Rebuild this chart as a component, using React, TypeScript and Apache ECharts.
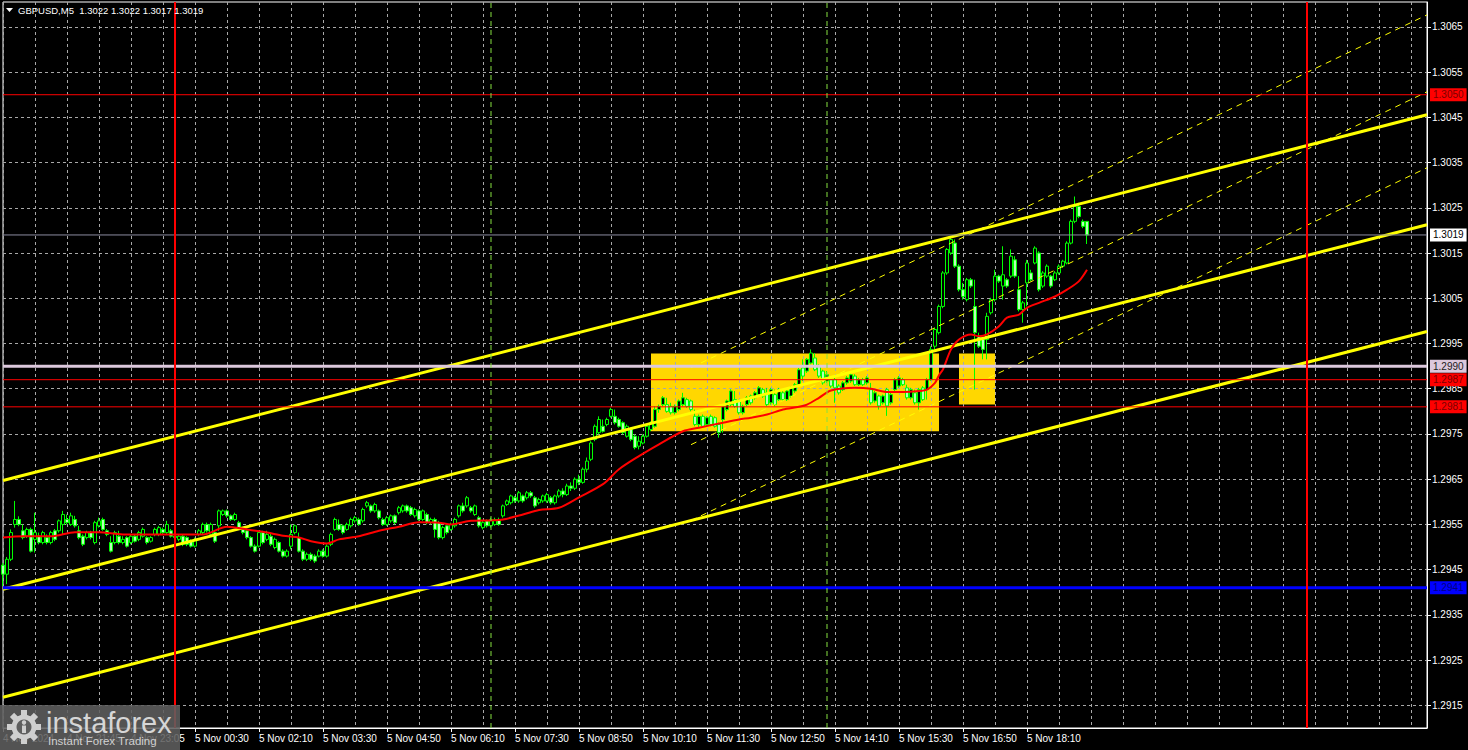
import { useEffect, useRef } from "react";
import * as echarts from "echarts";

// ---------------- data (prices stored as pips above 1.2900) ----------------
const SYMBOL = "GBPUSD,M5";
const PRICE_BASE = 1.29;
const PIP = 0.0001;

const opens = [
  46.0,44.0,47.3,55.0,56.1,53.6,52.4,53.9,51.7,52.4,
  51.0,52.1,51.0,53.6,53.6,55.0,56.1,55.0,56.1,53.6,
  52.4,52.1,53.2,51.0,54.7,56.1,53.6,51.0,51.0,52.4,
  51.0,52.1,51.0,52.4,51.7,52.4,52.1,51.3,52.8,52.8,
  53.9,53.2,53.6,52.4,51.7,52.4,52.1,51.3,50.2,52.8,
  53.2,55.0,52.8,53.2,54.7,57.2,58.0,56.9,56.1,55.4,
  53.9,53.6,52.1,50.2,50.2,53.2,51.7,
  52.4,49.9,51.0,49.1,48.0,50.2,53.2,52.1,49.1,47.3,
  48.4,48.0,48.0,49.1,48.0,50.6,53.9,55.0,54.7,53.9,
  54.7,55.8,56.1,55.8,59.1,59.1,58.0,58.0,56.1,55.0,
  55.8,56.9,57.6,58.0,59.1,58.7,56.9,58.0,56.1,57.2,
  55.4,56.1,55.4,52.1,54.7,53.9,54.7,56.9,59.1,59.1,
  58.7,57.2,56.5,54.3,55.8,54.7,55.0,56.1,56.9,59.4,
  59.8,60.9,60.2,61.3,60.9,62.0,60.9,59.8,60.2,60.2,
  60.9,59.8,61.3,62.4,61.6,63.5,63.0,65.0,64.3,67.2,
  69.4,73.8,75.3,76.7,77.1,78.9,78.9,78.2,77.5,74.5,
  76.0,74.5,72.3,73.0,74.5,76.0,76.7,80.4,81.5,81.5,
  81.1,79.7,80.4,81.5,82.6,82.3,78.9,77.1,78.9,77.1,
  78.9,78.6,77.1,78.2,80.4,81.5,82.6,82.3,79.7,81.5,
  83.4,83.0,83.7,84.8,84.1,81.9,83.7,82.6,84.1,82.6,
  83.4,84.5,85.9,89.6,88.9,90.7,91.8,90.0,88.9,86.7,
  87.0,87.0,85.6,84.8,86.3,86.7,87.8,85.9,87.0,86.3,
  84.8,82.3,83.4,81.9,84.8,81.9,84.8,85.6,87.0,85.2,
  83.0,84.1,81.9,85.2,84.8,87.0,94.4,97.4,103.2,110.6,
  115.0,117.2,112.1,106.9,104.7,109.1,103.2,96.6,95.9,95.9,
  101.8,104.7,109.9,107.7,109.1,109.9,113.5,106.9,102.5,108.4,
  110.6,112.8,115.0,107.7,109.9,109.9,109.1,110.6,112.1,112.8,
  117.2,122.0,125.3,122.0,122.0,
];

const closes = [
  44.0,47.3,53.2,56.1,55.0,52.1,53.9,49.1,53.2,51.0,
  53.2,51.0,53.2,51.7,55.8,57.2,55.4,56.9,54.7,52.1,
  50.6,53.2,52.1,55.4,55.8,53.9,52.8,49.1,53.2,51.0,
  51.7,50.2,52.4,51.3,53.2,53.9,51.0,52.1,53.9,54.3,
  53.2,55.0,52.4,52.1,52.4,50.6,50.6,50.2,51.7,53.6,
  55.0,53.6,55.0,51.3,58.0,58.0,56.9,56.1,57.2,54.3,
  53.2,52.1,50.2,49.1,53.2,51.0,52.8,
  50.6,51.7,49.1,48.0,49.1,52.8,54.7,49.1,47.3,48.4,
  47.3,46.9,49.1,48.0,50.2,52.8,56.1,53.9,53.2,55.0,
  56.1,56.5,55.0,58.3,59.8,58.0,59.4,56.5,55.0,56.5,
  56.9,55.4,58.7,59.1,58.0,57.2,58.3,56.1,58.0,55.4,
  56.1,53.9,52.1,54.3,53.2,55.0,56.1,59.1,58.0,60.9,
  58.0,59.1,54.7,55.4,54.7,56.1,56.1,55.0,59.1,60.2,
  61.3,60.2,62.0,60.2,62.0,61.3,59.1,60.5,61.3,61.6,
  59.8,61.3,62.4,61.6,63.5,63.0,65.0,64.3,67.2,69.0,
  73.0,76.7,78.2,75.6,78.2,80.4,77.5,76.7,75.3,76.7,
  73.8,72.0,73.4,74.5,76.7,77.5,80.4,81.1,83.0,80.0,
  79.7,81.1,82.3,83.0,81.1,80.4,77.1,78.9,76.7,78.6,
  77.1,76.7,75.3,81.1,82.3,84.5,81.1,79.7,81.1,83.0,
  81.9,84.1,85.2,83.4,81.5,84.8,81.5,84.8,82.6,84.5,
  85.2,85.9,89.2,87.8,91.5,92.9,89.2,87.8,86.3,88.1,
  85.6,85.2,84.1,86.3,87.4,88.1,85.9,87.0,85.9,87.4,
  81.9,84.1,81.2,83.4,81.2,83.7,87.0,87.4,85.9,83.0,
  84.8,81.9,84.8,82.6,87.0,93.7,98.1,103.2,110.6,115.8,
  118.0,112.1,106.9,105.4,109.1,107.7,97.4,94.4,93.7,101.0,
  104.7,109.9,108.8,110.2,107.7,114.3,109.9,102.5,104.0,112.8,
  109.1,116.1,106.9,110.6,112.1,107.7,110.6,112.1,113.2,117.2,
  122.0,125.3,123.1,120.9,119.0,
];

const lows = [
  41.4,41.8,46.9,54.3,54.6,51.7,52.0,48.8,48.8,50.6,
  50.6,50.6,50.6,51.3,53.2,52.8,55.0,54.7,54.3,51.7,
  50.2,51.7,51.7,50.6,54.3,53.6,52.4,48.8,50.6,50.6,
  50.6,49.9,50.6,51.0,51.3,52.1,50.6,51.0,52.4,52.4,
  52.8,52.8,52.1,51.7,51.3,50.2,50.2,49.9,49.9,52.4,
  52.8,53.2,52.4,50.9,53.6,56.9,56.5,55.8,55.8,54.0,
  52.8,51.7,49.9,48.8,49.9,50.6,51.3,
  50.2,49.5,48.8,47.7,47.7,49.5,52.8,48.8,46.9,46.9,
  46.9,46.5,47.7,47.7,47.7,50.2,53.6,53.6,52.8,53.6,
  54.3,55.4,54.7,55.4,58.7,57.6,57.6,56.1,54.7,54.7,
  55.4,55.0,57.2,57.6,57.6,56.9,56.5,55.8,55.8,55.0,
  55.0,52.1,51.7,51.7,52.8,53.6,54.3,56.5,57.6,58.7,
  57.6,56.9,54.3,53.9,54.3,54.3,54.7,54.7,56.5,59.1,
  59.4,59.8,59.8,59.8,60.5,60.9,58.7,59.4,59.8,59.8,
  59.4,59.4,60.9,61.0,61.3,62.4,62.6,63.7,64.0,66.5,
  69.0,73.4,74.9,75.3,76.7,78.6,77.1,76.4,74.9,74.2,
  73.4,71.6,71.6,72.7,74.2,75.6,76.4,79.7,81.1,79.7,
  79.3,79.3,80.0,81.1,80.8,80.0,76.7,76.4,76.4,76.7,
  76.7,76.4,74.2,75.3,80.0,81.1,80.8,79.3,79.3,81.1,
  81.5,82.6,83.4,83.0,81.1,81.5,81.1,82.3,82.3,82.3,
  83.0,84.1,85.6,86.7,88.5,90.4,88.9,87.4,85.9,86.3,
  85.2,81.9,83.7,84.5,85.9,86.3,85.6,85.6,85.6,85.9,
  81.5,81.9,80.4,81.5,79.0,81.5,84.5,85.2,85.6,82.6,
  82.6,81.5,80.4,82.3,82.6,86.7,93.7,97.0,102.8,110.2,
  114.6,111.7,106.5,104.7,104.3,107.3,84.8,94.0,91.5,91.5,
  101.4,104.3,108.4,104.7,107.3,109.5,109.5,102.1,99.6,103.2,
  108.8,112.5,106.5,107.3,109.5,107.3,108.8,110.2,111.7,112.5,
  116.9,121.6,122.7,120.5,117.0,
];

const highs = [
  46.5,47.8,53.9,60.2,56.8,55.0,54.3,54.3,57.6,53.2,
  53.6,52.8,53.6,54.0,56.1,58.0,57.2,57.6,56.9,54.7,
  52.8,53.6,53.6,55.8,56.5,56.5,54.0,52.4,53.6,53.6,
  52.4,52.4,52.8,52.8,53.6,54.3,52.4,52.4,54.3,54.7,
  54.3,55.8,54.0,52.8,52.8,52.8,52.4,51.7,52.1,54.0,
  55.4,55.4,55.4,53.6,58.3,58.3,58.3,57.2,57.6,55.8,
  54.3,54.0,52.4,50.6,53.6,53.6,53.6,
  53.2,52.1,51.3,49.5,49.5,55.0,55.0,53.2,49.5,48.8,
  48.8,48.4,49.5,49.5,50.6,53.2,56.5,56.1,55.0,55.4,
  56.5,56.9,56.5,58.7,60.2,59.4,59.8,58.3,56.5,56.9,
  57.2,57.2,59.1,59.4,59.4,59.1,58.7,58.3,58.3,57.6,
  56.5,56.5,55.8,54.7,55.0,55.4,56.5,59.4,59.8,61.3,
  59.1,59.4,56.9,55.8,56.1,56.5,56.5,56.5,59.4,60.5,
  61.6,61.3,62.4,61.6,62.4,62.4,61.3,60.9,61.6,62.0,
  61.3,61.6,62.8,63.0,64.0,64.3,65.4,66.0,67.6,69.8,
  73.4,77.1,78.9,78.2,78.6,80.8,80.4,78.6,77.8,77.1,
  76.4,74.9,74.5,74.9,77.1,77.8,81.1,81.5,83.4,83.0,
  81.9,81.5,82.6,84.1,83.0,82.6,80.4,79.3,79.3,78.9,
  79.3,78.9,77.5,81.5,82.6,84.9,84.5,82.6,81.5,83.4,
  83.7,84.5,85.6,85.2,85.2,85.2,84.8,85.2,84.8,84.9,
  85.6,86.3,89.6,91.5,91.8,93.7,92.9,90.4,89.2,88.9,
  87.4,87.4,86.0,86.7,87.8,88.5,88.2,87.4,87.4,87.8,
  86.3,84.5,83.7,83.7,85.2,84.1,87.4,87.8,87.4,85.9,
  85.2,84.8,85.2,85.6,87.4,94.4,98.5,103.6,111.0,116.1,
  118.7,118.0,112.5,108.4,109.5,109.5,109.1,97.4,96.3,101.8,
  105.1,111.3,110.2,116.5,109.5,115.8,114.3,109.9,104.4,113.5,
  111.3,116.5,115.4,111.0,112.5,110.2,111.0,112.5,113.5,117.6,
  122.4,127.5,126.1,122.4,122.0,
];

// moving average, read at selected bars
const maBars = [
  0,5,12,18,24,30,37,43,50,56,61,66,70,74,77,81,84,89,94,99,
  104,109,112,117,122,125,130,134,139,144,150,154,159,164,170,174,180,184,187,191,
  195,199,201,204,207,213,217,221,225,229,231,233,234,235,237,239,242,244,246,249,
  251,254,256,259,263,266,269,271,
];
const maValues = [
  52.1,52.4,52.4,53.3,53.3,52.8,52.8,52.8,52.8,54.5,53.9,53.2,52.5,52.1,51.3,50.8,51.7,52.4,53.6,54.5,
  55.5,55.4,55.0,55.8,55.9,56.1,57.2,58.2,58.7,61.0,63.9,67.2,70.1,72.7,75.6,76.4,77.5,78.2,78.6,79.3,
  80.4,81.0,81.5,83.0,84.6,85.2,85.0,84.3,84.3,84.5,84.8,86.3,88.0,89.3,93.7,95.9,97.0,96.6,97.0,98.8,
  100.7,101.4,102.9,104.0,105.4,106.9,108.8,111.3,
];

const timeLabels = [
  "4 Nov 2024", "4 Nov 21:45", "4 Nov 23:05", "5 Nov 00:30", "5 Nov 02:10", "5 Nov 03:30",
  "5 Nov 04:50", "5 Nov 06:10", "5 Nov 07:30", "5 Nov 08:50", "5 Nov 10:10", "5 Nov 11:30",
  "5 Nov 12:50", "5 Nov 14:10", "5 Nov 15:30", "5 Nov 16:50", "5 Nov 18:10",
];
const priceTicks = [
  1.2915, 1.2925, 1.2935, 1.2945, 1.2955, 1.2965, 1.2975, 1.2985,
  1.2995, 1.3005, 1.3015, 1.3025, 1.3035, 1.3045, 1.3055, 1.3065,
];

const resistanceLevels = [1.305, 1.2987, 1.2981];
const pivotLevel = 1.299;
const supportLevel = 1.2941;
const sessionBars = [43, 326];
const markerBars = [122, 206];
// [fromBar, toBar, top, bottom]
const zones = [
  [162, 234, 1.29928, 1.29756],
  [239, 248, 1.29928, 1.29815],
];
// [bar1, price1, bar2, price2]
const mainChannel = [
  [0, 1.296473, 356, 1.304557],
  [0, 1.294066, 356, 1.302127],
  [0, 1.291681, 356, 1.299764],
];
const thinChannel = [
  [172, 1.298965, 356, 1.306765],
  [172, 1.297264, 356, 1.305064],
  [172, 1.295586, 356, 1.303386],
];

const LABEL_EVERY = 16;
const GRID_EVERY = 8;
const SLOT_COUNT = 357;
const Y_MIN = 1.291;
const Y_MAX = 1.30705;

// ---------------- helpers ----------------
const FONT = '"Liberation Sans", Arial, sans-serif';
const toPrice = (p: number) => +(PRICE_BASE + p * PIP).toFixed(5);
const fmt = (p: number) => toPrice(p).toFixed(4);

function buildOption() {
  const slots = Array.from({ length: SLOT_COUNT }, (_, i) => String(i));
  const lastSlot = SLOT_COUNT - 1;
  const candles = opens.map((o, i) => [toPrice(o), toPrice(closes[i]), toPrice(lows[i]), toPrice(highs[i])]);
  const last = opens.length - 1;
  const header = `${SYMBOL}  ${fmt(opens[last])} ${fmt(highs[last])} ${fmt(lows[last])} ${fmt(closes[last])}`;
  const lastPrice = toPrice(closes[last]);
  const isLabelSlot = (i: number) => i % LABEL_EVERY === 0 && i / LABEL_EVERY < timeLabels.length;

  const level = (name: string, v: number, color: string, width: number, bg: string, fg: string) => ({
    name,
    type: "line",
    z: 5,
    silent: true,
    showSymbol: false,
    data: [[0, v], [lastSlot, v]],
    lineStyle: { color, width, type: "solid" },
    endLabel: {
      show: true,
      distance: 3,
      formatter: () => v.toFixed(4),
      backgroundColor: bg,
      color: fg,
      fontSize: 10,
      fontFamily: FONT,
      padding: [2, 3, 1, 3],
    },
  });

  const vline = (name: string, b: number, color: string, width: number, type: any) => ({
    name,
    type: "line",
    z: 5,
    silent: true,
    showSymbol: false,
    data: [[b, Y_MIN], [b, Y_MAX]],
    lineStyle: { color, width, type },
  });

  const gearTeeth = Array.from({ length: 8 }, (_, k) => ({
    type: "rect",
    x: 24,
    y: 727,
    rotation: (k * Math.PI) / 4,
    shape: { x: -3, y: -17, width: 6, height: 7 },
    style: { fill: "#cfcfcf" },
    z: 101,
  }));

  return {
    animation: false,
    backgroundColor: "#000000",
    grid: {
      left: 2,
      top: 2,
      width: 1425,
      height: 726,
      show: true,
      borderColor: "#ffffff",
      borderWidth: 1,
      backgroundColor: "transparent",
    },
    xAxis: {
      type: "category",
      data: slots,
      boundaryGap: false,
      z: 2,
      axisLine: { show: true, lineStyle: { color: "#ffffff" } },
      axisTick: { show: true, interval: (i: number) => isLabelSlot(i), length: 4, lineStyle: { color: "#ffffff" } },
      axisLabel: {
        interval: (i: number) => isLabelSlot(i),
        formatter: (v: string) => timeLabels[Number(v) / LABEL_EVERY] ?? "",
        align: "left",
        color: "#ffffff",
        fontSize: 10,
        fontFamily: FONT,
        margin: 5,
      },
      splitLine: {
        show: true,
        interval: (i: number) => i % GRID_EVERY === 0,
        lineStyle: { color: "#a8a8a8", width: 1, type: [3, 3] },
      },
    },
    yAxis: {
      type: "value",
      position: "right",
      min: Y_MIN,
      max: Y_MAX,
      z: 2,
      axisLine: { show: true, lineStyle: { color: "#ffffff" } },
      axisTick: { show: true, customValues: priceTicks, length: 4, lineStyle: { color: "#ffffff" } },
      axisLabel: {
        customValues: priceTicks,
        formatter: (v: number) => v.toFixed(4),
        color: "#ffffff",
        fontSize: 10,
        fontFamily: FONT,
        margin: 5,
      },
      splitLine: { show: true, lineStyle: { color: "#a8a8a8", width: 1, type: [3, 3] } },
    },
    series: [
      {
        name: "zones",
        type: "line",
        data: [],
        silent: true,
        markArea: {
          silent: true,
          z: 1,
          itemStyle: { color: "#ffd700", opacity: 1 },
          data: zones.map(([a, b, top, bottom]) => [
            { xAxis: a, yAxis: top },
            { xAxis: b, yAxis: bottom },
          ]),
        },
      },
      {
        name: "price",
        type: "candlestick",
        z: 3,
        barWidth: 3,
        data: candles,
        itemStyle: {
          color: "#000000",
          color0: "#b8ffb8",
          borderColor: "#00ff00",
          borderColor0: "#00ff00",
          borderWidth: 1,
        },
      },
      ...mainChannel.map(([x1, y1, x2, y2], k) => ({
        name: "channel" + k,
        type: "line",
        z: 4,
        silent: true,
        showSymbol: false,
        data: [[x1, y1], [x2, y2]],
        lineStyle: { color: "#ffff00", width: 3 },
      })),
      ...thinChannel.map(([x1, y1, x2, y2], k) => ({
        name: "thin" + k,
        type: "line",
        z: 4,
        silent: true,
        showSymbol: false,
        data: [[x1, y1], [x2, y2]],
        lineStyle: { color: "#ffff00", width: 1, type: [6, 5] },
      })),
      {
        name: "MA",
        type: "line",
        z: 5,
        silent: true,
        showSymbol: false,
        smooth: 0.3,
        data: maBars.map((b, i) => [b, toPrice(maValues[i])]),
        lineStyle: { color: "#ff0000", width: 2 },
      },
      ...resistanceLevels.map((v, k) => level("res" + k, v, "#ff0000", 1, "#ff0000", "#7a0000")),
      level("pivot", pivotLevel, "#dcc8dc", 3, "#dcc8dc", "#202020"),
      level("support", supportLevel, "#0000ff", 3, "#0000ff", "#000080"),
      level("last", lastPrice, "#8c8ca0", 1, "#ffffff", "#000000"),
      ...sessionBars.map((b, k) => vline("session" + k, b, "#ff0000", 2, "solid")),
      ...markerBars.map((b, k) => vline("marker" + k, b, "#86e040", 1, [5, 4])),
    ],
    graphic: [
      {
        type: "polygon",
        shape: { points: [[6, 8], [13, 8], [9.5, 12]] },
        style: { fill: "#ffffff" },
        z: 100,
      },
      {
        type: "text",
        x: 18,
        y: 10,
        style: { text: header, fill: "#ffffff", font: `9.5px ${FONT}`, verticalAlign: "middle" },
        z: 100,
      },
      {
        type: "rect",
        shape: { x: 0, y: 705, width: 180, height: 45 },
        style: { fill: "rgba(95,95,95,0.88)" },
        z: 100,
      },
      ...gearTeeth,
      { type: "circle", shape: { cx: 24, cy: 727, r: 12.5 }, style: { fill: "#cfcfcf" }, z: 101 },
      { type: "circle", shape: { cx: 24, cy: 727, r: 7.5 }, style: { fill: "#5f5f5f" }, z: 102 },
      { type: "circle", shape: { cx: 24, cy: 722.5, r: 2.2 }, style: { fill: "#cfcfcf" }, z: 103 },
      { type: "rect", shape: { x: 22, y: 725.5, width: 4, height: 7.5 }, style: { fill: "#cfcfcf" }, z: 103 },
      {
        type: "text",
        x: 46,
        y: 723,
        style: { text: "instaforex", fill: "#d6d6d6", font: `29px ${FONT}`, verticalAlign: "middle" },
        z: 101,
      },
      {
        type: "text",
        x: 48,
        y: 741,
        style: { text: "Instant Forex Trading", fill: "#d0d0d0", font: `11.5px ${FONT}`, verticalAlign: "middle" },
        z: 101,
      },
    ],
  };
}

export default function App() {
  const ref = useRef<HTMLDivElement>(null);
  useEffect(() => {
    if (!ref.current) return;
    const chart = echarts.init(ref.current, undefined, { renderer: "svg" });
    chart.setOption(buildOption() as any);
    return () => chart.dispose();
  }, []);
  return (
    <div
      ref={ref}
      style={{ position: "fixed", left: 0, top: 0, width: 1468, height: 750, background: "#000" }}
    />
  );
}
